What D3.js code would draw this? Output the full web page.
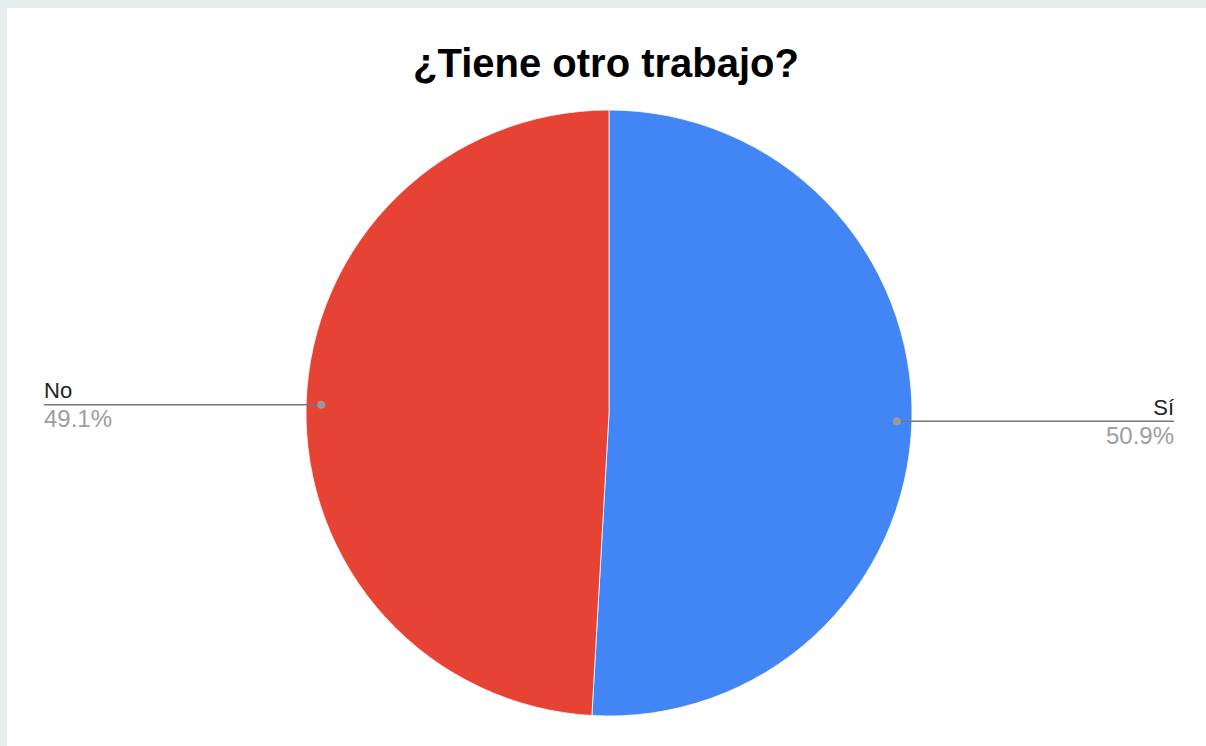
<!DOCTYPE html>
<html><head><meta charset="utf-8">
<script src="https://cdn.jsdelivr.net/npm/d3@7"></script>
<style>
html,body{margin:0;padding:0;background:#e8eeee;}
svg{display:block;}
</style></head>
<body>
<svg id="chart" width="1206" height="746"></svg>
<script>
const title = "¿Tiene otro trabajo?";
const categories = ["Sí", "No"];
const values = [50.9, 49.1];
const percentLabels = ["50.9%", "49.1%"];
const colors = ["#4285f4", "#e64334"];

const W = 1206, H = 746;
const svg = d3.select("#chart");
svg.append("rect").attr("x", 7).attr("y", 8).attr("width", W - 7).attr("height", H - 8).attr("fill", "#ffffff");

svg.append("text").attr("x", 606).attr("y", 77).attr("text-anchor", "middle")
  .attr("font-family", "Liberation Sans, Arial, sans-serif").attr("font-weight", "bold")
  .attr("font-size", 40).attr("fill", "#000").text(title);

const cx = 609, cy = 413, r = 303;
const data = categories.map((c, i) => ({cat: c, value: values[i], pct: percentLabels[i], color: colors[i]}));
const pie = d3.pie().sort(null).value(d => d.value);
const arcs = pie(data);
const arc = d3.arc().innerRadius(0).outerRadius(r);
const g = svg.append("g").attr("transform", `translate(${cx},${cy})`);
g.selectAll("path").data(arcs).join("path").attr("d", arc)
  .attr("fill", d => d.data.color).attr("stroke", "#fff").attr("stroke-width", 0.75);

const anchorR = 288;
const labelEdge = {left: 44, right: 1174};
arcs.forEach(a => {
  const mid = (a.startAngle + a.endAngle) / 2;
  const px = cx + anchorR * Math.sin(mid);
  const py = cy - anchorR * Math.cos(mid);
  const right = Math.sin(mid) > 0;
  const ex = right ? labelEdge.right : labelEdge.left;
  svg.append("line").attr("x1", px).attr("y1", py).attr("x2", ex).attr("y2", py)
    .attr("stroke", "#777").attr("stroke-width", 1.5);
  svg.append("circle").attr("cx", px).attr("cy", py).attr("r", 4).attr("fill", "#999");
  const anchor = right ? "end" : "start";
  svg.append("text").attr("x", ex).attr("y", py - 6.5).attr("text-anchor", anchor)
    .attr("font-family", "Liberation Sans, Arial, sans-serif").attr("font-size", 22)
    .attr("fill", "#222").text(a.data.cat);
  svg.append("text").attr("x", ex).attr("y", py + 22.5).attr("text-anchor", anchor)
    .attr("font-family", "Liberation Sans, Arial, sans-serif").attr("font-size", 24)
    .attr("fill", "#9e9e9e").text(a.data.pct);
});
</script>
</body></html>
